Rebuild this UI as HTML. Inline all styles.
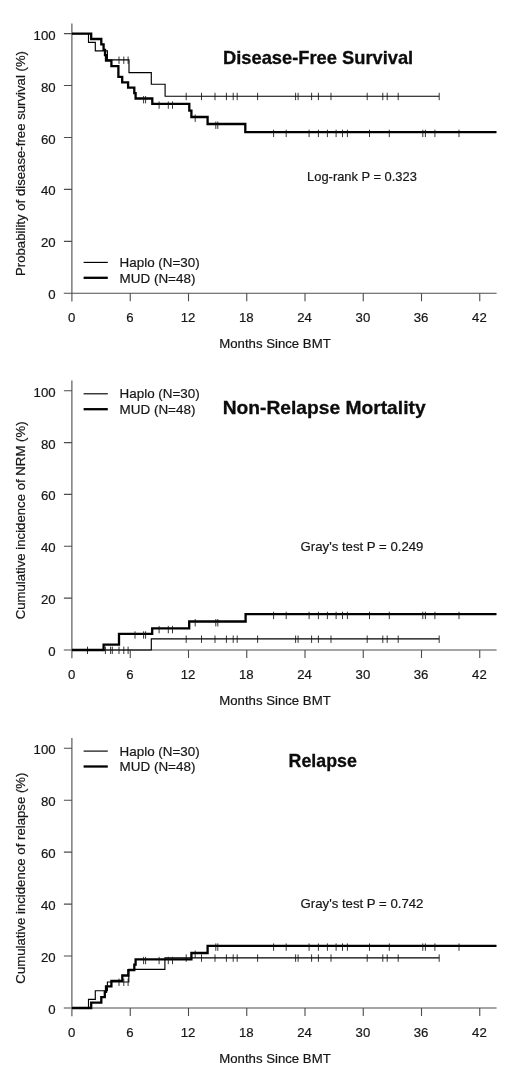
<!DOCTYPE html>
<html lang="en">
<head>
<meta charset="utf-8">
<title>Survival outcomes: Haplo vs MUD</title>
<style>
html,body{margin:0;padding:0;background:#fff;}
body{width:520px;height:1082px;overflow:hidden;}
svg{display:block;font-family:"Liberation Sans",sans-serif;}
</style>
</head>
<body>
<svg width="520" height="1082" viewBox="0 0 520 1082">
<rect width="520" height="1082" fill="#fff"/>
<g stroke="#4c4c4c" stroke-width="1.1" fill="none">
<path d="M71.9 23.5V301.5"/>
<path d="M63.8 293.3H496.6"/>
<path d="M130.25 293.3v7.9M188.50 293.3v7.9M246.75 293.3v7.9M305.00 293.3v7.9M363.25 293.3v7.9M421.50 293.3v7.9M479.75 293.3v7.9M72.0 241.4h-8.1M72.0 189.4h-8.1M72.0 137.5h-8.1M72.0 85.5h-8.1M72.0 33.6h-8.1"/>
</g>
<g font-size="13.2" fill="#161616" stroke="#161616" stroke-width="0.2">
<text x="71.6" y="322.1" text-anchor="middle">0</text>
<text x="129.8" y="322.1" text-anchor="middle">6</text>
<text x="188.1" y="322.1" text-anchor="middle">12</text>
<text x="246.3" y="322.1" text-anchor="middle">18</text>
<text x="304.6" y="322.1" text-anchor="middle">24</text>
<text x="362.9" y="322.1" text-anchor="middle">30</text>
<text x="421.1" y="322.1" text-anchor="middle">36</text>
<text x="479.4" y="322.1" text-anchor="middle">42</text>
<text x="55.6" y="299.3" text-anchor="end">0</text>
<text x="55.6" y="247.4" text-anchor="end">20</text>
<text x="55.6" y="195.4" text-anchor="end">40</text>
<text x="55.6" y="143.5" text-anchor="end">60</text>
<text x="55.6" y="91.5" text-anchor="end">80</text>
<text x="55.6" y="39.6" text-anchor="end">100</text>
<text x="275" y="348.4" text-anchor="middle">Months Since BMT</text>
<text transform="translate(25.2 163.5) rotate(-90)" text-anchor="middle">Probability of disease-free survival (%)</text>
<text x="362" y="181.0" font-size="12.9" text-anchor="middle">Log-rank P = 0.323</text>
<text x="119.6" y="267.0" font-size="13.4">Haplo (N=30)</text>
<text x="119.6" y="282.7" font-size="13.45">MUD (N=48)</text>
</g>
<path d="M83.6 262.4H107.8" stroke="#000" stroke-width="1.15"/>
<path d="M83.6 277.8H107.8" stroke="#000" stroke-width="2.3"/>
<text x="223.0" y="63.6" font-size="18.2" font-weight="bold" fill="#0c0c0c" stroke="#0c0c0c" stroke-width="0.3" textLength="190.2" lengthAdjust="spacingAndGlyphs">Disease-Free Survival</text>
<path d="M72.0 33.6H88.5V42.3H95.3V50.9H107.4V59.9H129.0V72.6H151.3V84.2H165.1V96.2H439.2" stroke="#000" stroke-width="1.15" fill="none" stroke-linejoin="miter"/>
<path d="M119.0 56.5V63.9M123.8 56.5V63.9M128.1 56.5V63.9M186.2 92.8V100.2M201.5 92.8V100.2M215.0 92.8V100.2M226.4 92.8V100.2M233.2 92.8V100.2M237.2 92.8V100.2M257.6 92.8V100.2M295.6 92.8V100.2M298.1 92.8V100.2M311.6 92.8V100.2M318.4 92.8V100.2M331.0 92.8V100.2M367.2 92.8V100.2M382.8 92.8V100.2M387.2 92.8V100.2M398.2 92.8V100.2M439.2 92.8V100.2" stroke="#111" stroke-width="0.85" fill="none"/>
<path d="M72.0 33.6H91.2V39.0H101.3V44.4H103.6V49.8H105.0V55.2H106.0V60.7H111.4V66.1H118.4V76.9H122.2V82.3H128.1V87.7H134.3V93.1H135.6V98.5H152.3V103.9H189.3V110.7H191.4V117.0H207.6V124.0H245.3V132.2H496.5" stroke="#000" stroke-width="2.3" fill="none" stroke-linejoin="miter"/>
<path d="M143.6 96.0V103.4M145.6 96.0V103.4M159.1 101.4V108.8M168.3 101.4V108.8M172.5 101.4V108.8M195.2 114.5V121.9M215.8 121.5V128.9M217.8 121.5V128.9M273.6 129.7V137.1M286.2 129.7V137.1M309.1 129.7V137.1M318.4 129.7V137.1M327.4 129.7V137.1M336.1 129.7V137.1M342.5 129.7V137.1M347.4 129.7V137.1M369.5 129.7V137.1M389.3 129.7V137.1M422.8 129.7V137.1M425.4 129.7V137.1M434.9 129.7V137.1M459.0 129.7V137.1" stroke="#111" stroke-width="0.85" fill="none"/>
<g stroke="#4c4c4c" stroke-width="1.1" fill="none">
<path d="M71.9 380.6V658.2"/>
<path d="M63.8 650.0H496.6"/>
<path d="M130.25 650.0v7.9M188.50 650.0v7.9M246.75 650.0v7.9M305.00 650.0v7.9M363.25 650.0v7.9M421.50 650.0v7.9M479.75 650.0v7.9M72.0 598.1h-8.1M72.0 546.3h-8.1M72.0 494.4h-8.1M72.0 442.6h-8.1M72.0 390.7h-8.1"/>
</g>
<g font-size="13.2" fill="#161616" stroke="#161616" stroke-width="0.2">
<text x="71.6" y="678.8" text-anchor="middle">0</text>
<text x="129.8" y="678.8" text-anchor="middle">6</text>
<text x="188.1" y="678.8" text-anchor="middle">12</text>
<text x="246.3" y="678.8" text-anchor="middle">18</text>
<text x="304.6" y="678.8" text-anchor="middle">24</text>
<text x="362.9" y="678.8" text-anchor="middle">30</text>
<text x="421.1" y="678.8" text-anchor="middle">36</text>
<text x="479.4" y="678.8" text-anchor="middle">42</text>
<text x="55.6" y="656.0" text-anchor="end">0</text>
<text x="55.6" y="604.1" text-anchor="end">20</text>
<text x="55.6" y="552.3" text-anchor="end">40</text>
<text x="55.6" y="500.4" text-anchor="end">60</text>
<text x="55.6" y="448.6" text-anchor="end">80</text>
<text x="55.6" y="396.7" text-anchor="end">100</text>
<text x="275" y="705.1" text-anchor="middle">Months Since BMT</text>
<text transform="translate(25.2 520.4) rotate(-90)" text-anchor="middle">Cumulative incidence of NRM (%)</text>
<text x="362" y="551.0" font-size="13.2" text-anchor="middle">Gray's test P = 0.249</text>
<text x="119.6" y="398.4" font-size="13.4">Haplo (N=30)</text>
<text x="119.6" y="414.1" font-size="13.45">MUD (N=48)</text>
</g>
<path d="M83.6 393.8H107.8" stroke="#000" stroke-width="1.15"/>
<path d="M83.6 409.2H107.8" stroke="#000" stroke-width="2.3"/>
<text x="222.7" y="413.6" font-size="18.2" font-weight="bold" fill="#0c0c0c" stroke="#0c0c0c" stroke-width="0.3" textLength="202.9" lengthAdjust="spacingAndGlyphs">Non-Relapse Mortality</text>
<path d="M72.0 650.0H151.3V638.9H439.2" stroke="#000" stroke-width="1.15" fill="none" stroke-linejoin="miter"/>
<path d="M87.5 646.6V654.0M105.4 646.6V654.0M110.6 646.6V654.0M112.3 646.6V654.0M119.0 646.6V654.0M123.8 646.6V654.0M128.1 646.6V654.0M186.2 635.5V642.9M201.5 635.5V642.9M215.0 635.5V642.9M226.4 635.5V642.9M233.2 635.5V642.9M237.2 635.5V642.9M257.6 635.5V642.9M295.6 635.5V642.9M298.1 635.5V642.9M311.6 635.5V642.9M318.4 635.5V642.9M331.0 635.5V642.9M367.2 635.5V642.9M382.8 635.5V642.9M387.2 635.5V642.9M398.2 635.5V642.9M439.2 635.5V642.9" stroke="#111" stroke-width="0.85" fill="none"/>
<path d="M72.0 650.0H103.6V644.6H119.0V633.8H152.2V628.4H189.2V621.5H245.6V614.2H496.5" stroke="#000" stroke-width="2.3" fill="none" stroke-linejoin="miter"/>
<path d="M135.0 631.3V638.7M143.6 631.3V638.7M145.6 631.3V638.7M159.1 625.9V633.3M168.3 625.9V633.3M172.5 625.9V633.3M195.2 619.0V626.4M215.8 619.0V626.4M217.8 619.0V626.4M273.6 611.7V619.1M286.2 611.7V619.1M309.1 611.7V619.1M318.4 611.7V619.1M327.4 611.7V619.1M336.1 611.7V619.1M342.5 611.7V619.1M347.4 611.7V619.1M369.5 611.7V619.1M389.3 611.7V619.1M422.8 611.7V619.1M425.4 611.7V619.1M434.9 611.7V619.1M459.0 611.7V619.1" stroke="#111" stroke-width="0.85" fill="none"/>
<g stroke="#4c4c4c" stroke-width="1.1" fill="none">
<path d="M71.9 738.1V1016.2"/>
<path d="M63.8 1008.0H496.6"/>
<path d="M130.25 1008.0v7.9M188.50 1008.0v7.9M246.75 1008.0v7.9M305.00 1008.0v7.9M363.25 1008.0v7.9M421.50 1008.0v7.9M479.75 1008.0v7.9M72.0 956.0h-8.1M72.0 904.1h-8.1M72.0 852.1h-8.1M72.0 800.2h-8.1M72.0 748.2h-8.1"/>
</g>
<g font-size="13.2" fill="#161616" stroke="#161616" stroke-width="0.2">
<text x="71.6" y="1037.4" text-anchor="middle">0</text>
<text x="129.8" y="1037.4" text-anchor="middle">6</text>
<text x="188.1" y="1037.4" text-anchor="middle">12</text>
<text x="246.3" y="1037.4" text-anchor="middle">18</text>
<text x="304.6" y="1037.4" text-anchor="middle">24</text>
<text x="362.9" y="1037.4" text-anchor="middle">30</text>
<text x="421.1" y="1037.4" text-anchor="middle">36</text>
<text x="479.4" y="1037.4" text-anchor="middle">42</text>
<text x="55.6" y="1014.0" text-anchor="end">0</text>
<text x="55.6" y="962.0" text-anchor="end">20</text>
<text x="55.6" y="910.1" text-anchor="end">40</text>
<text x="55.6" y="858.1" text-anchor="end">60</text>
<text x="55.6" y="806.2" text-anchor="end">80</text>
<text x="55.6" y="754.2" text-anchor="end">100</text>
<text x="275" y="1062.6" text-anchor="middle">Months Since BMT</text>
<text transform="translate(25.2 878.1) rotate(-90)" text-anchor="middle">Cumulative incidence of relapse (%)</text>
<text x="362" y="908.0" font-size="13.2" text-anchor="middle">Gray's test P = 0.742</text>
<text x="119.6" y="755.7" font-size="13.4">Haplo (N=30)</text>
<text x="119.6" y="771.4" font-size="13.45">MUD (N=48)</text>
</g>
<path d="M83.6 751.1H107.8" stroke="#000" stroke-width="1.15"/>
<path d="M83.6 766.5H107.8" stroke="#000" stroke-width="2.3"/>
<text x="288.6" y="767.1" font-size="18.2" font-weight="bold" fill="#0c0c0c" stroke="#0c0c0c" stroke-width="0.3" textLength="68.2" lengthAdjust="spacingAndGlyphs">Relapse</text>
<path d="M72.0 1008.0H88.5V999.3H95.3V990.7H107.4V982.0H128.8V969.4H164.9V957.8H439.2" stroke="#000" stroke-width="1.15" fill="none" stroke-linejoin="miter"/>
<path d="M119.0 978.6V986.0M123.8 978.6V986.0M128.1 978.6V986.0M186.2 954.4V961.8M201.5 954.4V961.8M215.0 954.4V961.8M226.4 954.4V961.8M233.2 954.4V961.8M237.2 954.4V961.8M257.6 954.4V961.8M295.6 954.4V961.8M298.1 954.4V961.8M311.6 954.4V961.8M318.4 954.4V961.8M331.0 954.4V961.8M367.2 954.4V961.8M382.8 954.4V961.8M387.2 954.4V961.8M398.2 954.4V961.8M439.2 954.4V961.8" stroke="#111" stroke-width="0.85" fill="none"/>
<path d="M72.0 1008.0H91.2V1002.6H101.3V997.2H104.8V991.8H106.0V986.4H111.4V980.9H122.3V975.5H128.3V970.1H134.3V964.7H135.6V959.3H191.4V953.0H207.6V945.9H496.5" stroke="#000" stroke-width="2.3" fill="none" stroke-linejoin="miter"/>
<path d="M143.6 956.8V964.2M145.6 956.8V964.2M159.1 956.8V964.2M168.3 956.8V964.2M172.5 956.8V964.2M195.2 950.5V957.9M215.8 943.4V950.8M217.8 943.4V950.8M273.6 943.4V950.8M286.2 943.4V950.8M309.1 943.4V950.8M318.4 943.4V950.8M327.4 943.4V950.8M336.1 943.4V950.8M342.5 943.4V950.8M347.4 943.4V950.8M369.5 943.4V950.8M389.3 943.4V950.8M422.8 943.4V950.8M425.4 943.4V950.8M434.9 943.4V950.8M459.0 943.4V950.8" stroke="#111" stroke-width="0.85" fill="none"/>
</svg>
</body>
</html>
